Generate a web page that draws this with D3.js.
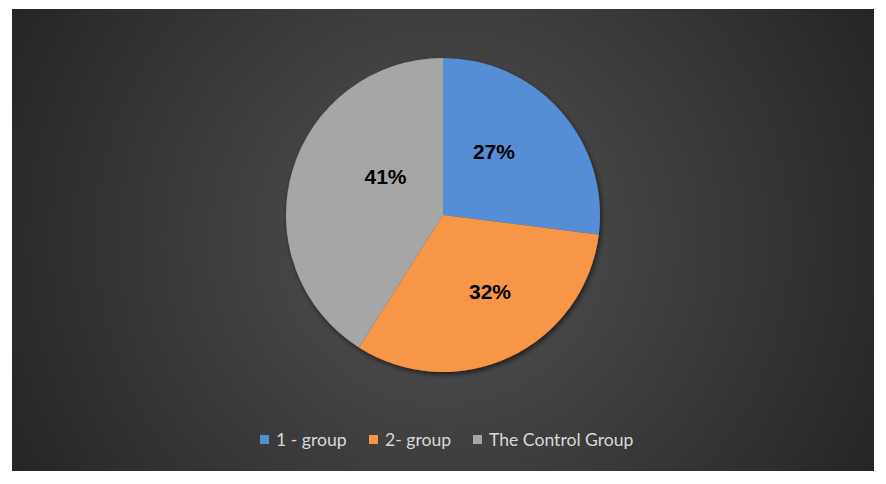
<!DOCTYPE html>
<html>
<head>
<meta charset="utf-8">
<script src="https://cdn.jsdelivr.net/npm/d3@7"></script>
<style>
  html, body { margin: 0; padding: 0; background: #ffffff; }
  svg { display: block; }
</style>
</head>
<body>
<svg id="chart" width="886" height="484"></svg>
<script>
const categories = ["1 - group", "2- group", "The Control Group"];
const values = [27, 32, 41];
const colors = ["#558ed5", "#f79646", "#a6a6a6"];

const svg = d3.select("#chart");

const defs = svg.append("defs");
const grad = defs.append("radialGradient")
  .attr("id", "bg").attr("gradientUnits", "userSpaceOnUse")
  .attr("cx", 443).attr("cy", 240).attr("r", 480);
grad.append("stop").attr("offset", "0%").attr("stop-color", "#535353");
grad.append("stop").attr("offset", "100%").attr("stop-color", "#262626");

const shadow = defs.append("filter").attr("id", "shadow")
  .attr("x", "-20%").attr("y", "-20%").attr("width", "140%").attr("height", "140%");
shadow.append("feDropShadow").attr("dx", 1.5).attr("dy", 2.5)
  .attr("stdDeviation", 2.5).attr("flood-color", "#000").attr("flood-opacity", 0.6);

svg.append("rect").attr("x", 12).attr("y", 9).attr("width", 862).attr("height", 462)
  .attr("fill", "url(#bg)");

const cx = 443, cy = 215, r = 157;
const pie = d3.pie().sort(null).value(d => d)(values);
const arc = d3.arc().innerRadius(0).outerRadius(r);

const g = svg.append("g").attr("transform", `translate(${cx},${cy})`);
g.append("g").attr("filter", "url(#shadow)")
  .selectAll("path").data(pie).join("path")
  .attr("d", arc)
  .attr("fill", (d, i) => colors[i]);

// label placement (Excel best-fit style): radius fraction and angle shift (deg) per slice
const labelRadius = [0.52, 0.57, 0.44];
const labelShift = [-10, -6.5, 17.5];
g.selectAll("text.lbl").data(pie).join("text")
  .attr("class", "lbl")
  .attr("transform", (d, i) => {
    const mid = (d.startAngle + d.endAngle) / 2 + labelShift[i] * Math.PI / 180;
    return `translate(${d3.pointRadial(mid, r * labelRadius[i])})`;
  })
  .attr("text-anchor", "middle")
  .attr("dy", "0.36em")
  .attr("font-family", "'Liberation Sans', Arial, sans-serif")
  .attr("font-weight", "bold")
  .attr("font-size", 21)
  .attr("fill", "#000")
  .text(d => d.data + "%");

// legend
const legendX = [260, 369, 473];
const lg = svg.append("g");
categories.forEach((c, i) => {
  lg.append("rect").attr("x", legendX[i]).attr("y", 435).attr("width", 9).attr("height", 9)
    .attr("fill", colors[i]);
  lg.append("text").attr("x", legendX[i] + 16).attr("y", 446)
    .attr("font-family", "Lato, 'Open Sans', sans-serif")
    .attr("font-size", 17.6)
    .attr("fill", "#d9d9d9")
    .text(c);
});
</script>
</body>
</html>
